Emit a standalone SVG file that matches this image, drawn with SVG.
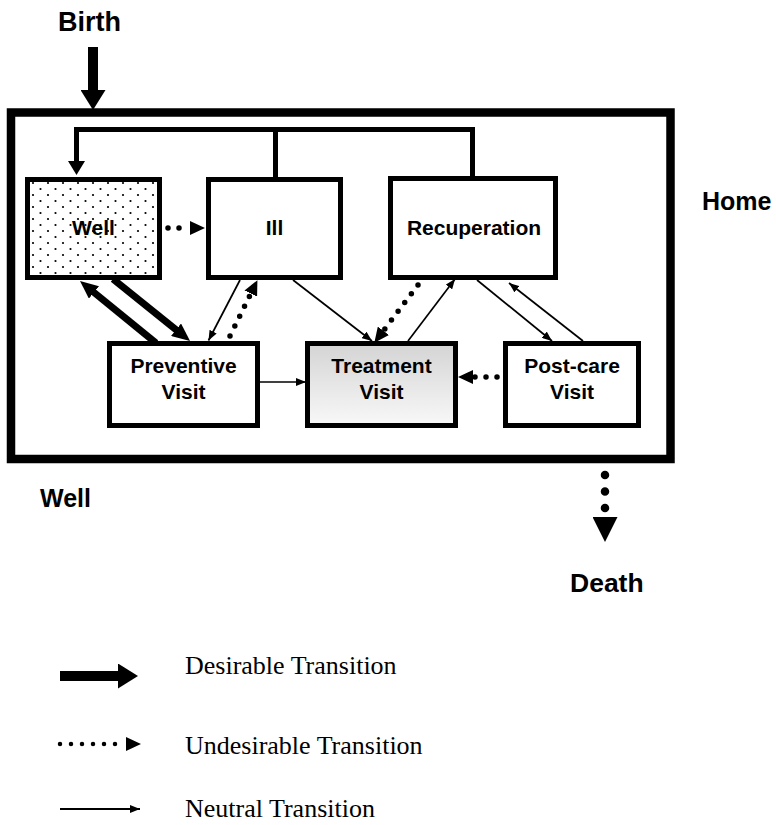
<svg xmlns="http://www.w3.org/2000/svg" width="776" height="825" viewBox="0 0 776 825">
<style>
  .box { fill: #fff; stroke: #000; stroke-width: 5; }
  .lbl { font-family: "Liberation Sans", Arial, sans-serif; font-weight: bold; font-size: 21px; fill: #000; text-anchor: middle; }
  .big { font-family: "Liberation Sans", Arial, sans-serif; font-weight: bold; fill: #000; }
  .leg { font-family: "Liberation Serif", "Times New Roman", serif; font-size: 26px; fill: #000; }
  .thin { fill: none; stroke: #000; stroke-width: 1.7; marker-end: url(#thin); }
  .thick { fill: none; stroke: #000; stroke-width: 7; marker-end: url(#thickHead); }
  .dot { fill: none; stroke: #000; stroke-width: 5.5; stroke-linecap: round; stroke-dasharray: 0 11; marker-end: url(#dotHead); }
</style>
<defs>
  <pattern id="stipple" x="0" y="0" width="15" height="12" patternUnits="userSpaceOnUse">
    <circle cx="3" cy="3" r="1.1" fill="#000"/>
    <circle cx="10.5" cy="9" r="1.1" fill="#000"/>
  </pattern>
  <linearGradient id="gray" x1="0" y1="0" x2="0" y2="1">
    <stop offset="0" stop-color="#d4d4d4"/>
    <stop offset="0.55" stop-color="#e8e8e8"/>
    <stop offset="1" stop-color="#f8f8f8"/>
  </linearGradient>
  <marker id="thin" viewBox="0 0 10 8" refX="10" refY="4" markerWidth="10" markerHeight="8" markerUnits="userSpaceOnUse" orient="auto">
    <path d="M0,0 L10,4 L0,8 z" fill="#000"/>
  </marker>
  <marker id="dotHead" viewBox="0 0 15 14" refX="0" refY="7" markerWidth="15" markerHeight="14" markerUnits="userSpaceOnUse" orient="auto">
    <path d="M0,0 L15,7 L0,14 z" fill="#000"/>
  </marker>
  <marker id="thickHead" viewBox="0 0 18 16" refX="6" refY="8" markerWidth="18" markerHeight="16" markerUnits="userSpaceOnUse" orient="auto">
    <path d="M0,0 L18,8 L0,16 z" fill="#000"/>
  </marker>
  <marker id="loopHead" viewBox="0 0 14 17" refX="2" refY="8.5" markerWidth="14" markerHeight="17" markerUnits="userSpaceOnUse" orient="auto">
    <path d="M0,0 L14,8.5 L0,17 z" fill="#000"/>
  </marker>
  <marker id="bigHead" viewBox="0 0 20 25" refX="2" refY="12.5" markerWidth="20" markerHeight="25" markerUnits="userSpaceOnUse" orient="auto">
    <path d="M0,0 L20,12.5 L0,25 z" fill="#000"/>
  </marker>
  <marker id="deathHead" viewBox="0 0 25 25" refX="0" refY="12.5" markerWidth="25" markerHeight="25" markerUnits="userSpaceOnUse" orient="auto">
    <path d="M0,0 L25,12.5 L0,25 z" fill="#000"/>
  </marker>
</defs>

<rect id="home" x="11" y="112.5" width="659.5" height="346.5" fill="none" stroke="#000" stroke-width="8.5"/>

<g id="node-well">
  <rect class="box" x="27.5" y="179.5" width="132" height="98" style="fill:url(#stipple)"/>
  <text class="lbl" x="93.5" y="235">Well</text>
</g>
<g id="node-ill">
  <rect class="box" x="208.5" y="179.5" width="132" height="98"/>
  <text class="lbl" x="274.5" y="235">Ill</text>
</g>
<g id="node-recuperation">
  <rect class="box" x="390.5" y="178.5" width="165" height="99"/>
  <text class="lbl" x="474" y="235">Recuperation</text>
</g>
<g id="node-preventive">
  <rect class="box" x="109.5" y="343.5" width="148" height="82"/>
  <text class="lbl" x="183.5" y="373">Preventive</text>
  <text class="lbl" x="183.5" y="399">Visit</text>
</g>
<g id="node-treatment">
  <rect class="box" x="307.5" y="343.5" width="148" height="82" style="fill:url(#gray)"/>
  <text class="lbl" x="381.5" y="373">Treatment</text>
  <text class="lbl" x="381.5" y="399">Visit</text>
</g>
<g id="node-postcare">
  <rect class="box" x="505.5" y="343.5" width="133" height="82"/>
  <text class="lbl" x="572" y="373">Post-care</text>
  <text class="lbl" x="572" y="399">Visit</text>
</g>

<g id="connectors">
  <path d="M93 47 V92" stroke="#000" stroke-width="10" fill="none" marker-end="url(#bigHead)"/>
  <path d="M472.5 177 V129.5 H76.5 V163" fill="none" stroke="#000" stroke-width="5" marker-end="url(#loopHead)"/>
  <path d="M275.5 177 V129.5" fill="none" stroke="#000" stroke-width="5"/>
  <path class="dot" d="M168 228 H190"/>
  <path class="thick" d="M156 343 L89.3 288.6"/>
  <path class="thick" d="M113 279 L180.7 333.5"/>
  <path class="thin" d="M240 280 L208.5 340.5"/>
  <path class="dot" d="M230 336 L250.8 293.6"/>
  <path class="thin" d="M293 280 L372 341"/>
  <path class="dot" d="M418 285 L383.4 330.8"/>
  <path class="thin" d="M408 341 L455 279"/>
  <path class="thin" d="M477 280 L552 341"/>
  <path class="thin" d="M583 341 L509 283"/>
  <path class="thin" d="M260 382 H306"/>
  <path class="dot" d="M497 377 H473"/>
  <path d="M605 475 V517" fill="none" stroke="#000" stroke-width="8.5" stroke-linecap="round" stroke-dasharray="0 16.5" marker-end="url(#deathHead)"/>
</g>

<g id="labels">
  <text class="big" x="58" y="31" font-size="27">Birth</text>
  <text class="big" x="702" y="210" font-size="25">Home</text>
  <text class="big" x="40" y="507" font-size="25">Well</text>
  <text class="big" x="570" y="592" font-size="26.5">Death</text>
</g>

<g id="legend">
  <path d="M60 676 H120" stroke="#000" stroke-width="10" fill="none" marker-end="url(#bigHead)"/>
  <text class="leg" x="185" y="674">Desirable Transition</text>
  <path d="M60 744 H126" fill="none" stroke="#000" stroke-width="4.5" stroke-linecap="round" stroke-dasharray="0 11" marker-end="url(#dotHead)"/>
  <text class="leg" x="185" y="754">Undesirable Transition</text>
  <path d="M60 809 H140" fill="none" stroke="#000" stroke-width="2" marker-end="url(#thin)"/>
  <text class="leg" x="185" y="817">Neutral Transition</text>
</g>
</svg>
